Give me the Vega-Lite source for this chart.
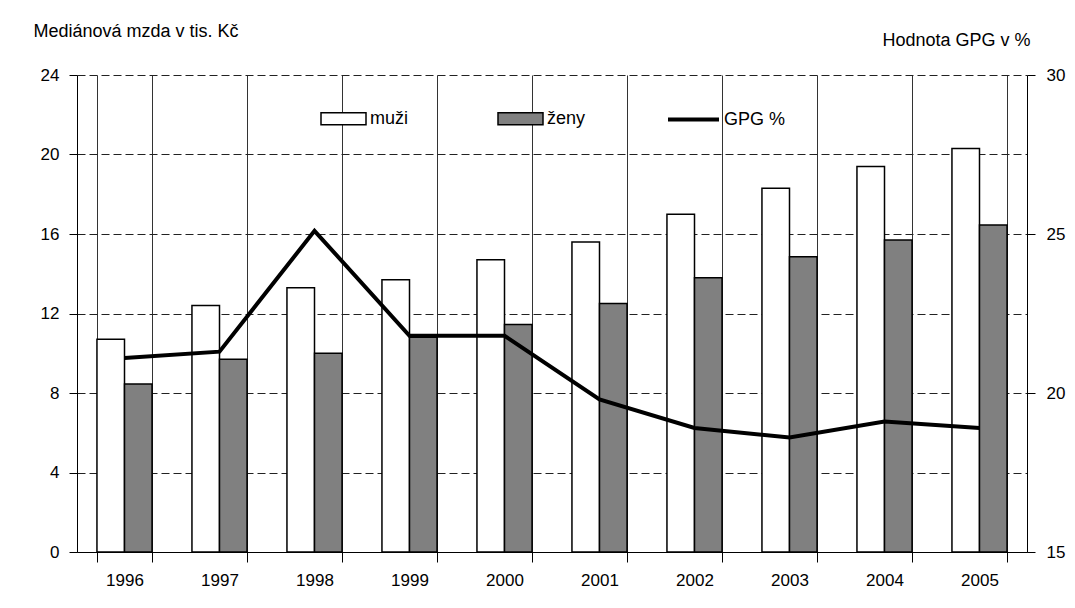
{
  "$schema": "https://vega.github.io/schema/vega-lite/v6.json",
  "autosize": {"type": "none"},
  "width": 950,
  "height": 477,
  "padding": {"left": 77, "top": 75, "right": 48, "bottom": 56},
  "background": "white",
  "config": {
    "font": "Liberation Sans",
    "view": {"stroke": null},
    "axis": {"labelFont": "Liberation Sans", "labelFontSize": 17, "labelColor": "#000", "titleFont": "Liberation Sans", "titleFontSize": 18, "titleFontWeight": "normal", "titleColor": "#000", "domainColor": "#000", "tickColor": "#000"},
    "legend": {"labelFont": "Liberation Sans", "labelFontSize": 18, "labelColor": "#000"}
  },
  "datasets": {
    "mzdy": [
      {"rok": "1996", "pohlavi": "muži", "mzda": 10.7},
      {"rok": "1996", "pohlavi": "ženy", "mzda": 8.45},
      {"rok": "1997", "pohlavi": "muži", "mzda": 12.4},
      {"rok": "1997", "pohlavi": "ženy", "mzda": 9.7},
      {"rok": "1998", "pohlavi": "muži", "mzda": 13.3},
      {"rok": "1998", "pohlavi": "ženy", "mzda": 10.0},
      {"rok": "1999", "pohlavi": "muži", "mzda": 13.7},
      {"rok": "1999", "pohlavi": "ženy", "mzda": 10.8},
      {"rok": "2000", "pohlavi": "muži", "mzda": 14.7},
      {"rok": "2000", "pohlavi": "ženy", "mzda": 11.45},
      {"rok": "2001", "pohlavi": "muži", "mzda": 15.6},
      {"rok": "2001", "pohlavi": "ženy", "mzda": 12.5},
      {"rok": "2002", "pohlavi": "muži", "mzda": 17.0},
      {"rok": "2002", "pohlavi": "ženy", "mzda": 13.8},
      {"rok": "2003", "pohlavi": "muži", "mzda": 18.3},
      {"rok": "2003", "pohlavi": "ženy", "mzda": 14.85},
      {"rok": "2004", "pohlavi": "muži", "mzda": 19.4},
      {"rok": "2004", "pohlavi": "ženy", "mzda": 15.7},
      {"rok": "2005", "pohlavi": "muži", "mzda": 20.3},
      {"rok": "2005", "pohlavi": "ženy", "mzda": 16.45}
    ],
    "gpg": [
      {"rok": "1996", "gpg": 21.1},
      {"rok": "1997", "gpg": 21.3},
      {"rok": "1998", "gpg": 25.1},
      {"rok": "1999", "gpg": 21.8},
      {"rok": "2000", "gpg": 21.8},
      {"rok": "2001", "gpg": 19.8},
      {"rok": "2002", "gpg": 18.9},
      {"rok": "2003", "gpg": 18.6},
      {"rok": "2004", "gpg": 19.1},
      {"rok": "2005", "gpg": 18.9}
    ]
  },
  "layer": [
    {
      "data": {"name": "mzdy"},
      "mark": {"type": "bar", "stroke": "#000", "strokeWidth": 1.5},
      "encoding": {
        "x": {
          "field": "rok", "type": "ordinal",
          "scale": {"type": "band", "paddingInner": 0.42, "paddingOuter": 0.21},
          "axis": {"title": null, "labelAngle": 0, "tickBand": "extent", "grid": true, "gridColor": "#333", "gridWidth": 1, "tickSize": 10, "labelPadding": 10, "domainWidth": 1}
        },
        "xOffset": {"field": "pohlavi", "type": "nominal", "sort": ["muži", "ženy"], "scale": {"paddingInner": 0, "paddingOuter": 0}},
        "y": {
          "field": "mzda", "type": "quantitative",
          "scale": {"domain": [0, 24], "nice": false},
          "axis": {"title": "Mediánová mzda v tis. Kč", "titleAngle": 0, "titleAlign": "left", "titleBaseline": "alphabetic", "titleX": -44, "titleY": -39, "values": [0, 4, 8, 12, 16, 20, 24], "grid": true, "gridDash": [8, 4], "gridColor": "#222", "gridWidth": 1, "tickSize": 8, "labelPadding": 10, "domainWidth": 1}
        },
        "fill": {
          "field": "pohlavi", "type": "nominal",
          "scale": {"domain": ["muži", "ženy"], "range": ["#ffffff", "#808080"]},
          "legend": {"title": null, "orient": "none", "legendX": 243, "legendY": 20, "direction": "horizontal", "symbolType": "M-1,-0.27H1V0.27H-1Z", "symbolSize": 2025, "symbolStrokeColor": "#000", "symbolStrokeWidth": 1.5, "labelOffset": 3, "columnPadding": 86}
        }
      }
    },
    {
      "data": {"name": "gpg"},
      "mark": {"type": "line", "strokeWidth": 4, "strokeJoin": "miter"},
      "encoding": {
        "x": {
          "field": "rok", "type": "ordinal",
          "axis": {"title": null, "labelAngle": 0, "tickBand": "extent", "grid": true, "gridColor": "#333", "gridWidth": 1, "tickSize": 10, "labelPadding": 10, "domainWidth": 1}
        },
        "y": {
          "field": "gpg", "type": "quantitative",
          "scale": {"domain": [15, 30], "nice": false},
          "axis": {"orient": "right", "title": "Hodnota GPG v %", "titleAngle": 0, "titleAlign": "right", "titleBaseline": "alphabetic", "titleX": 3, "titleY": -30, "values": [15, 20, 25, 30], "grid": false, "tickSize": 8, "labelPadding": 11, "domainWidth": 1}
        },
        "stroke": {
          "datum": "GPG %", "type": "nominal",
          "scale": {"range": ["#000000"]},
          "legend": {"title": null, "orient": "none", "legendX": 589, "legendY": 17, "symbolType": "stroke", "symbolSize": 2601, "symbolStrokeWidth": 4, "labelOffset": 3}
        }
      }
    }
  ],
  "resolve": {"scale": {"y": "independent", "fill": "independent", "stroke": "independent"}}
}
